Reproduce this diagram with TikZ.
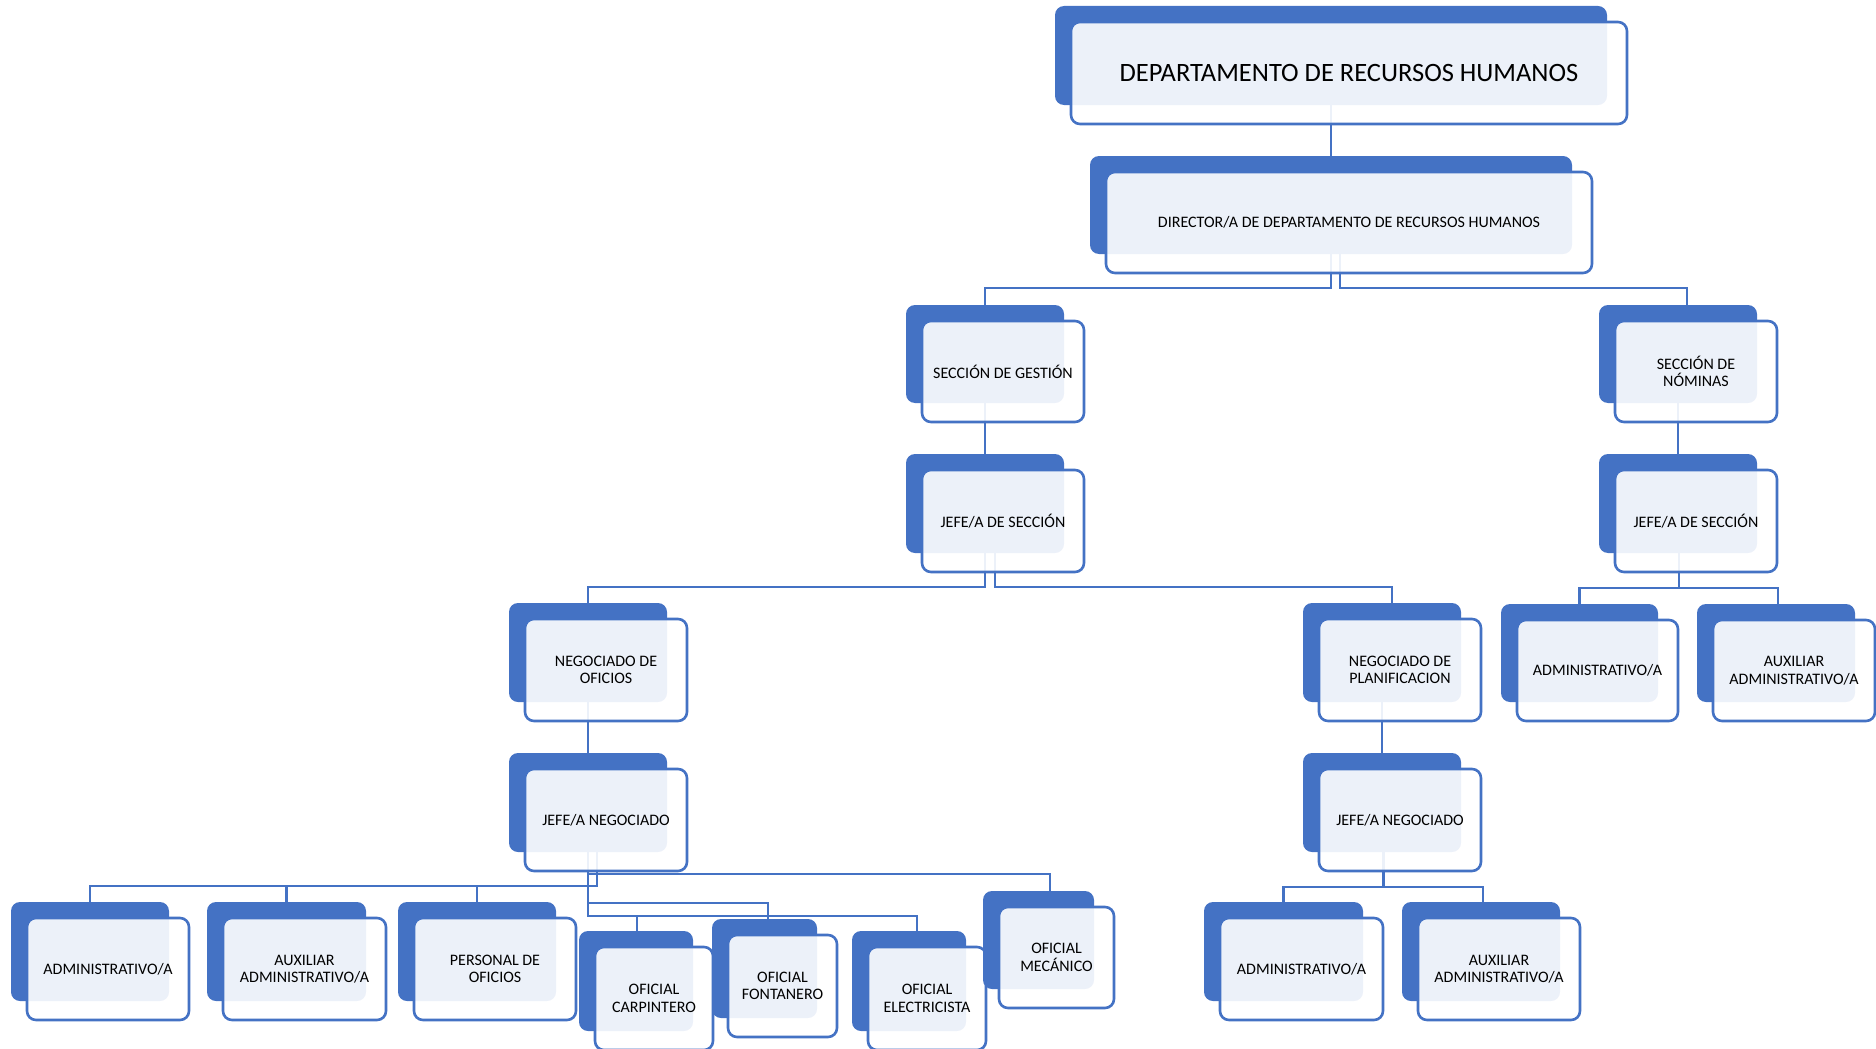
\documentclass[tikz,border=0pt]{standalone}
\usepackage{fontspec}
\setmainfont{Carlito}
\usetikzlibrary{calc}
\definecolor{orgblue}{HTML}{4472C4}
\pgfdeclarelayer{links}
\pgfsetlayers{links,main}

\tikzset{
  backbox/.style={fill=orgblue, rounded corners=9pt, anchor=north west,
    inner sep=0pt, outer sep=0pt},
  frontbox/.style={draw=orgblue, line width=2.6pt, fill=white, fill opacity=0.9,
    text opacity=1, rounded corners=9pt, anchor=north west, inner sep=0pt,
    outer sep=0pt, align=center, text=black,
    font=\fontsize{16}{17.5}\selectfont},
  conn/.style={draw=orgblue, line width=2.8pt},
}

% #1 extra options, #2 name, #3 x, #4 y (top left of the solid card), #5 width, #6 height, #7 label
\newcommand\orgunit[7][]{%
  \node[backbox, minimum width=#5pt, minimum height=#6pt] (#2-b) at (#3,#4) {};
  \node[frontbox, minimum width={(#5+4)*1pt}, minimum height={(#6+3)*1pt}, #1]
    (#2) at (#3+16,#4+16) {#7};
}

\begin{document}
\begin{tikzpicture}[x=1pt, y=-1pt]
\useasboundingbox (0,0) rectangle (1876,1049);

% level 0 and 1
\orgunit[font=\fontsize{26.5}{29}\selectfont]{top}{1055}{6}{552}{99}{DEPARTAMENTO DE RECURSOS HUMANOS}
\orgunit{dir}{1090}{156}{482}{98}{DIRECTOR/A DE DEPARTAMENTO DE RECURSOS HUMANOS}

% sections
\orgunit{gest}{906}{305}{158}{98}{SECCIÓN DE GESTIÓN}
\orgunit{nom}{1599}{305}{158}{98}{SECCIÓN DE\\NÓMINAS}
\orgunit{jsl}{906}{454}{158}{99}{JEFE/A DE SECCIÓN}
\orgunit{jsr}{1599}{454}{158}{99}{JEFE/A DE SECCIÓN}

% negociados and payroll staff
\orgunit{ofi}{509}{603}{158}{99}{NEGOCIADO DE\\OFICIOS}
\orgunit{pla}{1303}{603}{158}{99}{NEGOCIADO DE\\PLANIFICACION}
\orgunit{admR}{1501}{604}{157}{98}{ADMINISTRATIVO/A}
\orgunit{auxR}{1697}{604}{158}{98}{AUXILIAR\\ADMINISTRATIVO/A}
\orgunit{jnl}{509}{753}{158}{99}{JEFE/A NEGOCIADO}
\orgunit{jnr}{1303}{753}{158}{99}{JEFE/A NEGOCIADO}

% staff of the trades unit
\orgunit{adm1}{11}{902}{158}{99}{ADMINISTRATIVO/A}
\orgunit{aux1}{207}{902}{159}{99}{AUXILIAR\\ADMINISTRATIVO/A}
\orgunit{per}{398}{902}{158}{99}{PERSONAL DE\\OFICIOS}
\orgunit{car}{579}{931}{114}{100}{OFICIAL\\CARPINTERO}
\orgunit{fon}{712}{919}{105}{99}{OFICIAL\\FONTANERO}
\orgunit{ele}{852}{931}{114}{100}{OFICIAL\\ELECTRICISTA}
\orgunit{mec}{983}{891}{111}{98}{OFICIAL\\MECÁNICO}

% staff of the planning unit
\orgunit{adm2}{1204}{902}{159}{99}{ADMINISTRATIVO/A}
\orgunit{aux2}{1402}{902}{158}{99}{AUXILIAR\\ADMINISTRATIVO/A}

\begin{pgfonlayer}{links}
  \draw[conn] (top-b.south) -- (dir-b.north);
  \draw[conn] (dir-b.south) -- ++(0,34) -| (gest-b.north);
  \draw[conn] ([xshift=9pt]dir-b.south) -- ++(0,34) -| ([xshift=9pt]nom-b.north);
  \draw[conn] (gest-b.south) -- (jsl-b.north);
  \draw[conn] (nom-b.south) -- (jsr-b.north);

  \draw[conn] (jsl-b.south) -- ++(0,34) -| (ofi-b.north);
  \draw[conn] ([xshift=10pt]jsl-b.south) -- ++(0,34) -| ([xshift=10pt]pla-b.north);
  \draw[conn] ([xshift=1pt]jsr-b.south) -- ++(0,35) -| (admR-b.north);
  \draw[conn] ([xshift=1pt]jsr-b.south) -- ++(0,35) -| ([xshift=2pt]auxR-b.north);

  \draw[conn] (ofi-b.south) -- (jnl-b.north);
  \draw[conn] (pla-b.south) -- (jnr-b.north);

  \draw[conn] (jnl-b.south) -- ++(0,22) -| ([xshift=11.5pt]mec-b.north);
  \draw[conn] ([xshift=9pt]jnl-b.south) -- ++(0,34) -| (adm1-b.north);
  \draw[conn] ([xshift=9pt]jnl-b.south) -- ++(0,34) -| (aux1-b.north);
  \draw[conn] ([xshift=9pt]jnl-b.south) -- ++(0,34) -| (per-b.north);
  \draw[conn] (jnl-b.south) -- ++(0,51) -| ([xshift=3.5pt]fon-b.north);
  \draw[conn] (jnl-b.south) -- ++(0,64) -| ([xshift=1pt]car-b.north);
  \draw[conn] (jnl-b.south) -- ++(0,64) -| ([xshift=8pt]ele-b.north);

  \draw[conn] ([xshift=1pt]jnr-b.south) -- ++(0,35) -| (adm2-b.north);
  \draw[conn] ([xshift=2pt]jnr-b.south) -- ++(0,35) -| ([xshift=2pt]aux2-b.north);
\end{pgfonlayer}
\end{tikzpicture}
\end{document}
